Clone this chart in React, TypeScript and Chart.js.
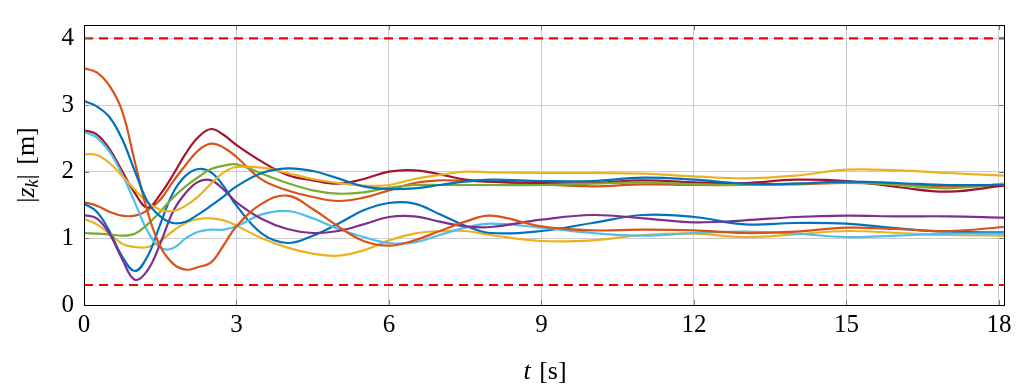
import React, { useEffect, useRef } from "react";
import { Chart, registerables } from "chart.js";

Chart.register(...registerables);

// time samples [s]
const T = [0, 0.25, 0.5, 0.75, 1, 1.25, 1.5, 1.75, 2, 2.25, 2.5, 2.75, 3, 3.5, 4, 4.5, 5, 5.5, 6, 6.5, 7, 7.5, 8, 9, 10, 11, 12, 13, 14, 15, 16, 17, 18.1];

// |z_k| [m] per agent
const blueA = [3.06, 2.98, 2.82, 2.49, 2.01, 1.55, 1.33, 1.23, 1.25, 1.36, 1.49, 1.63, 1.78, 1.98, 2.05, 2.01, 1.90, 1.78, 1.74, 1.75, 1.80, 1.85, 1.88, 1.86, 1.86, 1.91, 1.88, 1.82, 1.82, 1.85, 1.83, 1.80, 1.80];
const orangeA = [3.55, 3.49, 3.29, 2.91, 2.15, 1.40, 0.88, 0.62, 0.53, 0.57, 0.64, 0.90, 1.18, 1.52, 1.64, 1.44, 1.18, 0.96, 0.89, 0.97, 1.11, 1.25, 1.34, 1.18, 1.12, 1.13, 1.12, 1.08, 1.10, 1.16, 1.14, 1.11, 1.17];
const yellowA = [2.26, 2.25, 2.13, 1.94, 1.73, 1.54, 1.43, 1.41, 1.49, 1.63, 1.82, 1.99, 2.07, 2.06, 1.98, 1.89, 1.83, 1.79, 1.80, 1.89, 1.95, 2.00, 1.99, 1.98, 1.98, 1.97, 1.93, 1.90, 1.94, 2.03, 2.02, 1.98, 1.94];
const purple = [1.35, 1.30, 1.07, 0.69, 0.38, 0.52, 0.92, 1.40, 1.68, 1.85, 1.87, 1.73, 1.54, 1.29, 1.14, 1.08, 1.11, 1.21, 1.32, 1.33, 1.25, 1.18, 1.17, 1.28, 1.35, 1.30, 1.24, 1.27, 1.32, 1.34, 1.33, 1.33, 1.31];
const green = [1.08, 1.07, 1.06, 1.04, 1.07, 1.21, 1.40, 1.61, 1.78, 1.92, 2.04, 2.09, 2.11, 1.97, 1.83, 1.72, 1.67, 1.69, 1.76, 1.80, 1.80, 1.80, 1.80, 1.80, 1.82, 1.84, 1.81, 1.80, 1.82, 1.84, 1.80, 1.75, 1.82];
const lightBlue = [2.60, 2.51, 2.30, 1.96, 1.54, 1.11, 0.86, 0.85, 1.00, 1.10, 1.13, 1.13, 1.18, 1.36, 1.41, 1.30, 1.14, 1.02, 0.93, 0.94, 1.05, 1.16, 1.22, 1.16, 1.08, 1.04, 1.08, 1.10, 1.07, 1.02, 1.04, 1.07, 1.07];
const darkRed = [2.62, 2.56, 2.34, 2.01, 1.68, 1.46, 1.66, 1.95, 2.27, 2.52, 2.64, 2.55, 2.40, 2.15, 1.95, 1.87, 1.82, 1.89, 2.00, 2.02, 1.96, 1.88, 1.85, 1.83, 1.83, 1.87, 1.84, 1.83, 1.88, 1.86, 1.77, 1.70, 1.79];
const blueB = [1.52, 1.40, 1.11, 0.73, 0.51, 0.73, 1.21, 1.68, 1.94, 2.04, 1.99, 1.78, 1.49, 1.07, 0.93, 1.04, 1.22, 1.42, 1.53, 1.52, 1.36, 1.19, 1.08, 1.11, 1.23, 1.35, 1.32, 1.21, 1.23, 1.22, 1.15, 1.10, 1.09];
const orangeB = [1.54, 1.49, 1.40, 1.34, 1.34, 1.42, 1.58, 1.85, 2.10, 2.32, 2.42, 2.36, 2.22, 1.88, 1.72, 1.62, 1.56, 1.61, 1.72, 1.83, 1.87, 1.86, 1.85, 1.81, 1.78, 1.81, 1.80, 1.80, 1.81, 1.83, 1.81, 1.78, 1.79];
const yellowB = [1.29, 1.21, 1.07, 0.92, 0.87, 0.87, 0.96, 1.11, 1.23, 1.29, 1.30, 1.27, 1.19, 1.00, 0.86, 0.77, 0.74, 0.82, 0.97, 1.07, 1.11, 1.11, 1.05, 0.96, 0.97, 1.05, 1.07, 1.02, 1.06, 1.11, 1.08, 1.05, 1.04];

const series = [blueA, orangeA, yellowA, purple, green, lightBlue, darkRed, blueB, orangeB, yellowB];
const seriesColors = ["#0072BD", "#D95319", "#EDB120", "#7E2F8E", "#77AC30", "#4DBEEE", "#A2142F", "#0072BD", "#D95319", "#EDB120"];

// bounds (red dashed)
const boundLevels = [4, 0.3];

const xTicks = [0, 3, 6, 9, 12, 15, 18];
const yTicks = [0, 1, 2, 3, 4];
const xMin = 0;
const xMax = 18.1;
const yMin = 0;
const yMax = 4.2;

const FONT = "'Liberation Serif', 'Times New Roman', serif";

const framePlugin = {
  id: "frameAndTitles",
  afterDraw(chart: any) {
    const { ctx, chartArea: a, scales } = chart;
    ctx.save();
    // inner tick marks
    ctx.strokeStyle = "#7a7a7a";
    ctx.lineWidth = 1;
    ctx.beginPath();
    for (const v of xTicks) {
      const px = Math.round(scales.x.getPixelForValue(v)) + 0.5;
      ctx.moveTo(px, a.bottom);
      ctx.lineTo(px, a.bottom - 5);
      ctx.moveTo(px, a.top);
      ctx.lineTo(px, a.top + 5);
    }
    for (const v of yTicks) {
      const py = Math.round(scales.y.getPixelForValue(v)) + 0.5;
      ctx.moveTo(a.left, py);
      ctx.lineTo(a.left + 5, py);
      ctx.moveTo(a.right, py);
      ctx.lineTo(a.right - 5, py);
    }
    ctx.stroke();
    // frame
    ctx.strokeStyle = "#000";
    ctx.lineWidth = 1;
    ctx.strokeRect(Math.round(a.left) + 0.5, Math.round(a.top) + 0.5, Math.round(a.right - a.left), Math.round(a.bottom - a.top));

    // x title: t [s]
    ctx.fillStyle = "#000";
    ctx.textBaseline = "alphabetic";
    const cx = (a.left + a.right) / 2;
    const italic = `italic 26px ${FONT}`;
    const roman = `26px ${FONT}`;
    ctx.font = italic;
    const wT = ctx.measureText("t").width;
    ctx.font = roman;
    const wS = ctx.measureText(" [s]").width;
    const x0 = cx - (wT + wS) / 2;
    const by = 379;
    ctx.font = italic;
    ctx.fillText("t", x0, by);
    ctx.font = roman;
    ctx.fillText(" [s]", x0 + wT + 2, by);

    // y title: |z_k| [m]
    ctx.translate(34, (a.top + a.bottom) / 2);
    ctx.rotate(-Math.PI / 2);
    const sub = `italic 18px ${FONT}`;
    const parts = [
      { t: "|", f: roman, dy: 0 },
      { t: "z", f: italic, dy: 0 },
      { t: "k", f: sub, dy: 4 },
      { t: "|", f: roman, dy: 0 },
      { t: " [m]", f: roman, dy: 0 },
    ];
    let total = 0;
    const widths = parts.map((p) => {
      ctx.font = p.f;
      const w = ctx.measureText(p.t).width + (p.t === " [m]" ? 3 : 0);
      total += w;
      return w;
    });
    let xx = -total / 2;
    parts.forEach((p, i) => {
      ctx.font = p.f;
      ctx.fillText(p.t, xx + (p.t === " [m]" ? 3 : 0), p.dy);
      xx += widths[i];
    });
    ctx.restore();
  },
};

export default function App() {
  const ref = useRef<HTMLCanvasElement>(null);

  useEffect(() => {
    if (!ref.current) return;
    const datasets: any[] = series.map((s, i) => ({
      data: T.map((t, j) => ({ x: t, y: s[j] })),
      borderColor: seriesColors[i],
      backgroundColor: seriesColors[i],
      borderWidth: 2.2,
      pointRadius: 0,
      tension: 0.4,
      fill: false,
    }));
    boundLevels.forEach((lv) => {
      datasets.push({
        data: [
          { x: xMin, y: lv },
          { x: xMax, y: lv },
        ],
        borderColor: "#FF0000",
        backgroundColor: "#FF0000",
        borderWidth: 2.2,
        borderDash: [9, 6],
        pointRadius: 0,
        tension: 0,
        fill: false,
      });
    });

    const tickFont = { family: FONT, size: 25 };

    const chart = new Chart(ref.current, {
      type: "line",
      data: { datasets },
      plugins: [framePlugin],
      options: {
        animation: false,
        responsive: false,
        devicePixelRatio: 1,
        layout: { padding: { left: 0, right: 16, top: 9, bottom: 0 } },
        plugins: { legend: { display: false }, tooltip: { enabled: false } },
        scales: {
          x: {
            type: "linear",
            min: xMin,
            max: xMax,
            afterBuildTicks: (s: any) => {
              s.ticks = xTicks.map((v) => ({ value: v }));
            },
            afterFit: (s: any) => {
              s.height = 83;
            },
            grid: { color: "#cccccc", lineWidth: 1, drawTicks: false },
            border: { display: false },
            ticks: {
              font: tickFont,
              color: "#000",
              padding: 5,
              maxRotation: 0,
              autoSkip: false,
              callback: (v: any) => String(v),
            },
          },
          y: {
            type: "linear",
            min: yMin,
            max: yMax,
            afterBuildTicks: (s: any) => {
              s.ticks = yTicks.map((v) => ({ value: v }));
            },
            afterFit: (s: any) => {
              s.width = 84;
            },
            grid: { color: "#cccccc", lineWidth: 1, drawTicks: false },
            border: { display: false },
            ticks: {
              font: tickFont,
              color: "#000",
              padding: 10,
              autoSkip: false,
              callback: (v: any) => String(v),
            },
          },
        },
      } as any,
    });
    return () => chart.destroy();
  }, []);

  return (
    <div style={{ position: "fixed", left: 0, top: 0, width: 1020, height: 388, background: "#fff" }}>
      <canvas ref={ref} width={1020} height={388} style={{ display: "block", width: 1020, height: 388 }} />
    </div>
  );
}
